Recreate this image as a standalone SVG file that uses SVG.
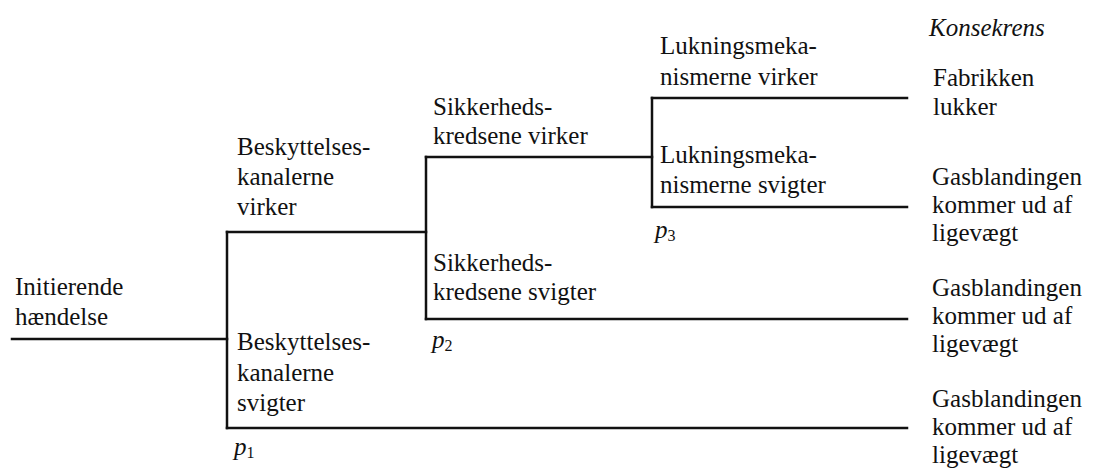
<svg xmlns="http://www.w3.org/2000/svg" width="1104" height="471" viewBox="0 0 1104 471">
<style>
.c{fill:none;stroke:#111;stroke-width:2.5;stroke-linecap:square}
</style>
<rect width="1104" height="471" fill="#fff"/>
<g id="connectors" class="c">
<path d="M12 339 H227"/>
<path d="M227 232 V428"/>
<path d="M227 232 H426"/>
<path d="M227 428 H907"/>
<path d="M426 157 V319"/>
<path d="M426 157 H652"/>
<path d="M426 319 H907"/>
<path d="M652 98 V207"/>
<path d="M652 98 H907"/>
<path d="M652 207 H907"/>
</g>
<g id="initial"><text font-family="Liberation Serif" font-size="25" fill="#111" x="15" y="295">Initierende</text><text font-family="Liberation Serif" font-size="25" fill="#111" x="15" y="325">hændelse</text></g>
<g id="besk-virker"><text font-family="Liberation Serif" font-size="25" fill="#111" x="237" y="155">Beskyttelses-</text><text font-family="Liberation Serif" font-size="25" fill="#111" x="237" y="185">kanalerne</text><text font-family="Liberation Serif" font-size="25" fill="#111" x="237" y="215">virker</text></g>
<g id="besk-svigter"><text font-family="Liberation Serif" font-size="25" fill="#111" x="237" y="350">Beskyttelses-</text><text font-family="Liberation Serif" font-size="25" fill="#111" x="237" y="381">kanalerne</text><text font-family="Liberation Serif" font-size="25" fill="#111" x="237" y="411">svigter</text></g>
<g id="p1"><text font-family="Liberation Serif" font-size="25" font-style="italic" fill="#111" x="234" y="455">p<tspan font-size="16" font-style="normal" dy="3">1</tspan></text></g>
<g id="sikk-virker"><text font-family="Liberation Serif" font-size="25" fill="#111" x="433" y="115">Sikkerheds-</text><text font-family="Liberation Serif" font-size="25" fill="#111" x="433" y="144">kredsene virker</text></g>
<g id="sikk-svigter"><text font-family="Liberation Serif" font-size="25" fill="#111" x="433" y="271">Sikkerheds-</text><text font-family="Liberation Serif" font-size="25" fill="#111" x="433" y="300">kredsene svigter</text></g>
<g id="p2"><text font-family="Liberation Serif" font-size="25" font-style="italic" fill="#111" x="432" y="348">p<tspan font-size="16" font-style="normal" dy="3">2</tspan></text></g>
<g id="luk-virker"><text font-family="Liberation Serif" font-size="25" fill="#111" x="660" y="54">Lukningsmeka-</text><text font-family="Liberation Serif" font-size="25" fill="#111" x="660" y="85">nismerne virker</text></g>
<g id="luk-svigter"><text font-family="Liberation Serif" font-size="25" fill="#111" x="660" y="163">Lukningsmeka-</text><text font-family="Liberation Serif" font-size="25" fill="#111" x="660" y="193">nismerne svigter</text></g>
<g id="p3"><text font-family="Liberation Serif" font-size="25" font-style="italic" fill="#111" x="655" y="238">p<tspan font-size="16" font-style="normal" dy="3">3</tspan></text></g>
<g id="header"><text font-family="Liberation Serif" font-size="25" font-style="italic" fill="#111" x="929" y="36">Konsekrens</text></g>
<g id="c1"><text font-family="Liberation Serif" font-size="25" fill="#111" x="933" y="86">Fabrikken</text><text font-family="Liberation Serif" font-size="25" fill="#111" x="933" y="115">lukker</text></g>
<g id="c2"><text font-family="Liberation Serif" font-size="25" fill="#111" x="932" y="185">Gasblandingen</text><text font-family="Liberation Serif" font-size="25" fill="#111" x="932" y="213">kommer ud af</text><text font-family="Liberation Serif" font-size="25" fill="#111" x="932" y="241">ligevægt</text></g>
<g id="c3"><text font-family="Liberation Serif" font-size="25" fill="#111" x="932" y="296">Gasblandingen</text><text font-family="Liberation Serif" font-size="25" fill="#111" x="932" y="324">kommer ud af</text><text font-family="Liberation Serif" font-size="25" fill="#111" x="932" y="352">ligevægt</text></g>
<g id="c4"><text font-family="Liberation Serif" font-size="25" fill="#111" x="932" y="407">Gasblandingen</text><text font-family="Liberation Serif" font-size="25" fill="#111" x="932" y="435">kommer ud af</text><text font-family="Liberation Serif" font-size="25" fill="#111" x="932" y="463">ligevægt</text></g>
</svg>
